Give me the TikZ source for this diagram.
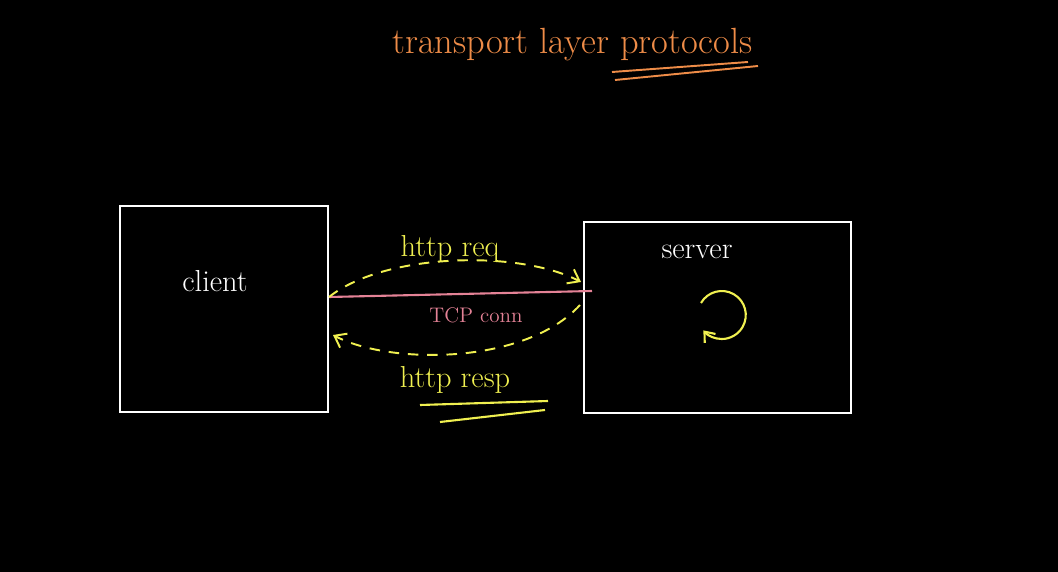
\documentclass[tikz,border=0pt]{standalone}
\usepackage{fontspec}
\usetikzlibrary{arrows.meta,calc}

\definecolor{chalkorange}{RGB}{238,140,72}
\definecolor{chalkyellow}{RGB}{240,240,80}
\definecolor{chalkpink}{RGB}{228,130,150}

\tikzset{
  box/.style={draw=white, line width=1.2pt},
  msg/.style={chalkyellow, line width=1.1pt, dash pattern=on 6pt off 5pt, -{Straight Barb[length=6pt,width=9pt]}},
  msglbl/.style={text=chalkyellow, font=\LARGE},
}

\begin{document}
\begin{tikzpicture}
\fill[black] (0,0) rectangle (21.16,-11.44);
\useasboundingbox (0,0) rectangle (21.16,-11.44);

% title
\node[text=chalkorange, font=\huge] (title) at (11.45,-0.9) {transport layer protocols};
\draw[chalkorange, line width=1.1pt] (12.24,-1.44) -- (14.96,-1.24);
\draw[chalkorange, line width=1.1pt] (12.3,-1.6) -- (15.16,-1.32);

% the two ends
\node[box, minimum width=4.16cm, minimum height=4.12cm] (client) at (4.48,-6.18) {};
\node[text=white, font=\LARGE] (clientlbl) at (4.3,-5.62) {client};
\node[box, minimum width=5.34cm, minimum height=3.82cm] (server) at (14.35,-6.35) {};
\node[text=white, font=\LARGE] (serverlbl) at (13.94,-5.04) {server};

% tcp connection
\coordinate (tcpL) at (client.east |- 0,-5.94);
\coordinate (tcpR) at (11.84,-5.82);
\draw[chalkpink, line width=1.2pt] (tcpL) -- (tcpR);
\node[text=chalkpink, font=\large] (tcp) at (9.52,-6.3) {TCP conn};

% request and response
\coordinate (reqEnd) at (11.62,-5.64);
\draw[msg] (tcpL) .. controls (7.7,-5.05) and (10.4,-5.0) .. (reqEnd);
\node[msglbl] (req) at (9.0,-4.98) {http req};

\coordinate (respStart) at (11.6,-6.1);
\coordinate (respEnd) at (6.66,-6.7);
\draw[msg] (respStart) .. controls (10.5,-7.3) and (7.8,-7.3) .. (respEnd);
\node[msglbl] (resp) at (9.1,-7.6) {http resp};
\draw[chalkyellow, line width=1.2pt] (8.4,-8.1) -- (10.96,-8.02);
\draw[chalkyellow, line width=1.2pt] (8.8,-8.44) -- (10.9,-8.2);

% processing loop
\draw[chalkyellow, line width=1.2pt, -{Straight Barb[length=5pt,width=8pt]}]
  (14.02,-6.06) arc[start angle=150, end angle=-140, radius=0.48];
\end{tikzpicture}
\end{document}
